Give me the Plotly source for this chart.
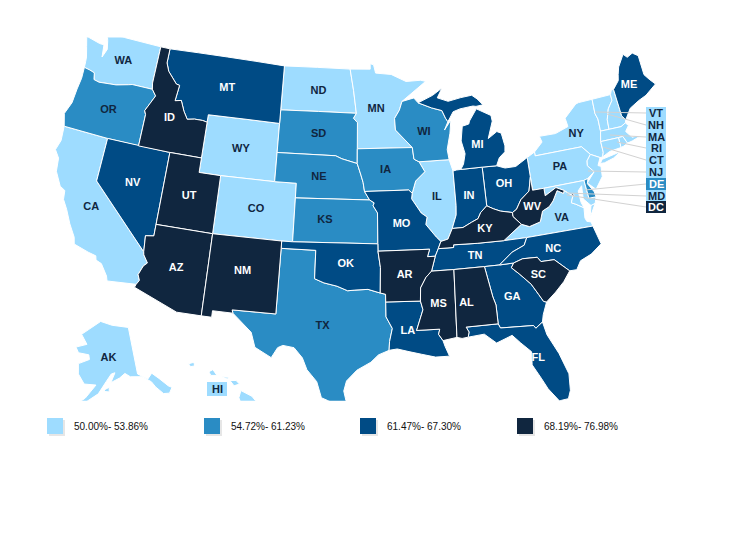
import plotly.graph_objects as go

# ---------- data (values estimated inside each legend range)
LIGHT = ["WA","CA","WY","CO","ND","MN","IL","NY","PA","VA","VT","NH","MA","RI","CT","NJ","MD","AK","HI"]
LIGHT_V = [52.0,51.0,53.0,52.5,52.0,51.5,53.0,50.0,52.5,53.5,51.0,52.0,50.5,51.5,50.8,51.2,53.86,52.8,50.0]
MID = ["OR","SD","NE","KS","IA","WI","TX","DE"]
MID_V = [56.0,59.0,60.0,60.5,58.0,55.0,61.23,54.72]
DARK = ["MT","NV","MO","OK","LA","TN","GA","FL","NC","OH","IN","MI","ME"]
DARK_V = [63.0,62.0,64.5,65.0,66.0,66.5,63.5,62.5,61.47,64.0,65.5,63.0,67.3]
DEEP = ["ID","UT","AZ","NM","AR","MS","AL","SC","KY","WV","DC"]
DEEP_V = [70.0,69.0,68.19,71.0,72.0,74.0,73.0,69.5,72.5,75.0,76.98]
LEGEND_LABELS = ["50.00%- 53.86%","54.72%- 61.23%","61.47%- 67.30%","68.19%- 76.98%"]
COLORS = ["#9edcff","#2a8cc4","#004b85","#10263f"]
CALLOUTS = ["VT","NH","MA","RI","CT","NJ","DE","MD","DC"]

# ---------- simplified state outlines (lon, lat), approximated by hand
SHAPES = {
"WA":[[(-124.7,48.38),(-123.2,48.15),(-122.75,48.15),(-122.6,47.3),(-122.3,47.9),(-122.5,48.5),(-122.76,49),(-117.03,49),(-117.04,46.42),(-116.92,46),(-118.98,46),(-119.3,45.93),(-120.5,45.7),(-121.2,45.65),(-122.2,45.57),(-122.75,45.65),(-122.9,46.1),(-123.4,46.2),(-124,46.27),(-124.05,46.7),(-124.1,47),(-124.4,47.7)]],
"OR":[[(-124,46.27),(-123.4,46.2),(-122.9,46.1),(-122.75,45.65),(-122.2,45.57),(-121.2,45.65),(-120.5,45.7),(-119.3,45.93),(-118.98,46),(-116.92,46),(-116.47,45.6),(-116.85,45),(-117.2,44.45),(-117.03,44.2),(-117.03,42),(-120,42),(-124.21,42),(-124.55,42.84),(-124.15,43.7),(-124.07,44.7),(-123.95,45.5)]],
"CA":[[(-124.21,42),(-120,42),(-120,39),(-114.63,35),(-114.57,34.8),(-114.14,34.3),(-114.43,34.05),(-114.72,33.4),(-114.52,33.03),(-114.72,32.72),(-117.12,32.53),(-117.25,32.85),(-117.9,33.6),(-118.4,33.75),(-118.5,34.03),(-119.2,34.15),(-120.5,34.45),(-120.65,34.9),(-121.3,35.7),(-121.9,36.6),(-122.4,37.2),(-122.5,37.8),(-123,38),(-123.7,38.9),(-123.85,39.8),(-124.35,40.3),(-124.1,41)]],
"NV":[[(-120,42),(-114.04,42),(-114.04,37),(-114.04,36.2),(-114.75,36.1),(-114.63,35),(-120,39)]],
"ID":[[(-117.03,49),(-116.05,49),(-116.05,48),(-115.7,47.45),(-114.7,46.7),(-114.35,46.65),(-114.5,45.55),(-113.9,45.65),(-113.45,44.95),(-113,44.45),(-112.3,44.55),(-111.5,44.55),(-111.05,44.48),(-111.05,42),(-114.04,42),(-117.03,42),(-117.03,44.2),(-117.2,44.45),(-116.85,45),(-116.47,45.6),(-116.92,46),(-117.04,46.42)]],
"MT":[[(-116.05,49),(-104.05,49),(-104.05,45.94),(-104.05,45),(-111.05,45),(-111.05,44.48),(-111.5,44.55),(-112.3,44.55),(-113,44.45),(-113.45,44.95),(-113.9,45.65),(-114.5,45.55),(-114.35,46.65),(-114.7,46.7),(-115.7,47.45),(-116.05,48)]],
"WY":[[(-111.05,45),(-104.05,45),(-104.05,43),(-104.05,41),(-109.05,41),(-111.05,41),(-111.05,42),(-111.05,44.48)]],
"UT":[[(-114.04,42),(-111.05,42),(-111.05,41),(-109.05,41),(-109.05,37),(-114.04,37)]],
"CO":[[(-109.05,41),(-104.05,41),(-102.05,41),(-102.05,40),(-102.05,37),(-103,37),(-109.05,37)]],
"AZ":[[(-114.04,37),(-109.05,37),(-109.05,31.33),(-111.07,31.33),(-114.81,32.5),(-114.72,32.72),(-114.52,33.03),(-114.72,33.4),(-114.43,34.05),(-114.14,34.3),(-114.57,34.8),(-114.63,35),(-114.75,36.1),(-114.04,36.2)]],
"NM":[[(-109.05,37),(-103,37),(-103,36.5),(-103.04,32),(-106.62,32),(-106.53,31.78),(-108.2,31.78),(-108.2,31.33),(-109.05,31.33)]],
"ND":[[(-104.05,49),(-97.23,49),(-96.85,47.5),(-96.56,45.94),(-104.05,45.94)]],
"SD":[[(-104.05,45.94),(-96.56,45.94),(-96.85,45.6),(-96.45,45.3),(-96.45,43.5),(-96.45,42.49),(-97.9,42.8),(-98.5,43),(-104.05,43)]],
"NE":[[(-104.05,43),(-98.5,43),(-97.9,42.8),(-96.45,42.49),(-96.1,41.7),(-95.9,41.2),(-95.77,40.58),(-95.31,40),(-102.05,40),(-102.05,41),(-104.05,41)]],
"KS":[[(-102.05,40),(-95.31,40),(-94.9,39.8),(-95,39.6),(-94.61,39.11),(-94.62,37),(-102.05,37)]],
"OK":[[(-103,37),(-102.05,37),(-94.62,37),(-94.62,36.5),(-94.43,35.39),(-94.48,33.64),(-95.5,33.9),(-96.6,33.85),(-97.2,33.8),(-98.1,34.1),(-99.2,34.3),(-100,34.56),(-100,36.5),(-103,36.5)]],
"TX":[[(-103,36.5),(-100,36.5),(-100,34.56),(-99.2,34.3),(-98.1,34.1),(-97.2,33.8),(-96.6,33.85),(-95.5,33.9),(-94.48,33.64),(-94.04,33.55),(-94.04,33.02),(-94.04,32),(-93.55,31.2),(-93.8,30.3),(-93.85,29.7),(-94.7,29.4),(-95.3,28.9),(-96.4,28.35),(-97.2,27.6),(-97.4,26.9),(-97.15,25.96),(-97.6,25.9),(-98.3,26.1),(-99.1,26.4),(-99.5,27.5),(-100.3,28.3),(-100.7,29.1),(-101.4,29.77),(-102.3,29.88),(-102.7,29.7),(-103.15,28.98),(-104.5,29.6),(-104.9,30.6),(-106.53,31.78),(-106.62,32),(-103.04,32)]],
"MN":[[(-97.23,49),(-95.15,49),(-95.15,49.38),(-94.8,49.3),(-94.6,48.72),(-93,48.6),(-91.5,48.07),(-90,48.1),(-89.5,48),(-92,46.7),(-92.3,46.1),(-92.8,45.55),(-92.75,44.75),(-91.2,43.5),(-96.45,43.5),(-96.45,45.3),(-96.85,45.6),(-96.56,45.94),(-96.85,47.5)]],
"IA":[[(-96.45,43.5),(-91.2,43.5),(-91.1,42.7),(-90.64,42.5),(-90.15,41.8),(-91.05,41.2),(-91.42,40.38),(-91.73,40.61),(-95.77,40.58),(-95.9,41.2),(-96.1,41.7),(-96.45,42.49)]],
"MO":[[(-95.77,40.58),(-91.73,40.61),(-91.42,40.38),(-91.5,40),(-90.7,39),(-90.2,38.7),(-90.35,38.2),(-89.5,37.3),(-89.13,36.98),(-89.4,36.5),(-89.7,36),(-90.37,36),(-90.15,36.5),(-94.62,36.5),(-94.62,37),(-94.61,39.11),(-95,39.6),(-94.9,39.8),(-95.31,40)]],
"AR":[[(-94.62,36.5),(-90.15,36.5),(-90.37,36),(-89.7,36),(-90.1,35),(-90.6,34.6),(-91.1,33.9),(-91.17,33),(-94.04,33.02),(-94.04,33.55),(-94.48,33.64),(-94.43,35.39)]],
"LA":[[(-94.04,33.02),(-91.17,33),(-91,32.4),(-91.6,31),(-89.73,31),(-89.85,30.65),(-89.53,30.2),(-89.4,29.8),(-89.1,29.1),(-90.2,29.1),(-91.3,29.35),(-92.2,29.55),(-93.2,29.78),(-93.85,29.7),(-93.8,30.3),(-93.55,31.2),(-94.04,32)]],
"MS":[[(-90.1,35),(-88.2,35),(-88.4,30.35),(-89.53,30.2),(-89.85,30.65),(-89.73,31),(-91.6,31),(-91,32.4),(-91.17,33),(-91.1,33.9),(-90.6,34.6)]],
"AL":[[(-88.2,35),(-85.6,35),(-85.18,32.87),(-85,32.3),(-85,31),(-87.6,31),(-87.4,30.65),(-87.5,30.3),(-88,30.25),(-88.4,30.35)]],
"TN":[[(-90.1,35),(-89.7,36),(-89.4,36.5),(-88.07,36.5),(-88.05,36.68),(-86,36.63),(-83.68,36.6),(-81.68,36.59),(-82,36.1),(-83.1,35.75),(-84.32,34.99),(-85.6,35),(-88.2,35)]],
"KY":[[(-89.4,36.5),(-89.13,36.98),(-88.5,37.1),(-88.05,37.8),(-87.1,37.8),(-86.3,38.1),(-85.7,38.3),(-85.4,38.7),(-84.8,39.1),(-84.25,38.85),(-83.65,38.63),(-82.6,38.42),(-82.6,38.15),(-81.97,37.54),(-83.68,36.6),(-86,36.63),(-88.05,36.68),(-88.07,36.5)]],
"IL":[[(-90.64,42.5),(-87.8,42.5),(-87.53,41.7),(-87.53,39.35),(-87.6,38.7),(-88.05,37.8),(-88.5,37.1),(-89.13,36.98),(-89.5,37.3),(-90.35,38.2),(-90.2,38.7),(-90.7,39),(-91.5,40),(-91.42,40.38),(-91.05,41.2),(-90.15,41.8)]],
"IN":[[(-87.53,41.7),(-87.2,41.75),(-86.8,41.76),(-84.8,41.76),(-84.8,39.1),(-85.4,38.7),(-85.7,38.3),(-86.3,38.1),(-87.1,37.8),(-88.05,37.8),(-87.6,38.7),(-87.53,39.35)]],
"OH":[[(-84.8,41.76),(-83.45,41.73),(-82.7,41.5),(-81.7,41.5),(-80.52,41.98),(-80.52,40.64),(-80.85,39.7),(-81.7,39.2),(-82.2,38.6),(-82.6,38.42),(-83.65,38.63),(-84.25,38.85),(-84.8,39.1)]],
"MI":[[(-86.8,41.76),(-84.8,41.76),(-83.45,41.73),(-83.1,42.25),(-82.5,42.6),(-82.42,43),(-82.6,43.9),(-83,44.05),(-83.9,43.65),(-83.3,44.8),(-83.35,45.2),(-84.7,45.78),(-85.5,45),(-85.6,44.8),(-86.25,44.7),(-86.5,43.7),(-86.25,42.8),(-86.5,42.1)],
      [(-90.4,46.55),(-88.9,47),(-87.9,47.45),(-88.45,46.8),(-87.4,46.5),(-86.1,46.67),(-85,46.75),(-84.5,46.45),(-84,46),(-84.7,45.95),(-85,46),(-86.3,45.9),(-87,45.75),(-87.6,45.1),(-87.8,45.35),(-88.1,45.9),(-89.1,46.14)]],
"WI":[[(-92,46.7),(-90.8,46.9),(-90.4,46.55),(-89.1,46.14),(-88.1,45.9),(-87.8,45.35),(-87.6,45.1),(-88,44.55),(-87.3,45.2),(-87.5,44.3),(-87.9,43.2),(-87.8,42.5),(-90.64,42.5),(-91.1,42.7),(-91.2,43.5),(-92.75,44.75),(-92.8,45.55),(-92.3,46.1)]],
"GA":[[(-85.6,35),(-84.32,34.99),(-83.1,35),(-83.35,34.7),(-82.75,34.2),(-81.9,33.4),(-81.4,32.6),(-81.1,32.1),(-80.87,32.03),(-81.3,31.2),(-81.45,30.72),(-82.05,30.36),(-82.2,30.57),(-84.86,30.7),(-85,31),(-85,32.3),(-85.18,32.87)]],
"FL":[[(-87.6,31),(-85,31),(-84.86,30.7),(-82.2,30.57),(-82.05,30.36),(-81.45,30.72),(-81.25,29.8),(-80.55,28.4),(-80.05,26.9),(-80.15,25.75),(-80.4,25.2),(-81.1,25.15),(-81.8,26.1),(-82.2,26.9),(-82.75,27.9),(-82.65,28.8),(-83.4,29.5),(-84,30.1),(-85.3,29.7),(-86.2,30.4),(-87.5,30.3),(-87.4,30.65)]],
"SC":[[(-83.1,35),(-82.3,35.2),(-81.05,35.15),(-80.8,34.82),(-79.67,34.8),(-78.55,33.86),(-79.2,33.2),(-80,32.6),(-80.87,32.03),(-81.1,32.1),(-81.4,32.6),(-81.9,33.4),(-82.75,34.2),(-83.35,34.7)]],
"NC":[[(-84.32,34.99),(-83.1,35.75),(-82,36.1),(-81.68,36.59),(-75.87,36.55),(-75.5,35.25),(-76.5,34.7),(-77.5,34.4),(-77.95,33.85),(-78.55,33.86),(-79.67,34.8),(-80.8,34.82),(-81.05,35.15),(-82.3,35.2),(-83.1,35)]],
"VA":[[(-83.68,36.6),(-81.97,37.54),(-81.3,37.3),(-80.3,37.5),(-79.95,38.2),(-79.3,38.42),(-78.87,38.76),(-78.35,39.4),(-77.83,39.13),(-77.72,39.32),(-77.05,38.85),(-77.3,38.4),(-76.95,38.25),(-76.3,37.9),(-76.4,37.2),(-76.3,36.95),(-75.95,36.85),(-75.87,36.55),(-81.68,36.59)],
      [(-75.95,37.15),(-75.65,37.95),(-75.25,38.03)]],
"WV":[[(-81.97,37.54),(-82.6,38.15),(-82.6,38.42),(-82.2,38.6),(-81.7,39.2),(-80.85,39.7),(-80.52,40.64),(-80.52,39.72),(-79.48,39.72),(-79.48,39.2),(-78.4,39.62),(-77.72,39.32),(-77.83,39.13),(-78.35,39.4),(-78.87,38.76),(-79.3,38.42),(-79.95,38.2),(-80.3,37.5),(-81.3,37.3)]],
"MD":[[(-79.48,39.72),(-75.79,39.72),(-75.69,38.46),(-75.05,38.45),(-75.25,38.03),(-75.65,37.95),(-76.2,38.5),(-76.1,39.4),(-76.5,39.1),(-76.45,38.3),(-76.3,37.9),(-76.95,38.25),(-77.3,38.4),(-77.05,38.85),(-77.72,39.32),(-78.4,39.62),(-79.48,39.2)]],
"DC":[[(-77.12,38.93),(-77.04,39),(-76.91,38.89),(-77.04,38.79)]],
"DE":[[(-75.79,39.72),(-75.4,39.8),(-75.55,39.45),(-75.1,38.8),(-75.05,38.45),(-75.69,38.46)]],
"PA":[[(-80.52,41.98),(-79.76,42.27),(-79.76,42),(-75.35,42),(-74.7,41.36),(-75.13,40.98),(-75.2,40.65),(-74.72,40.15),(-75.4,39.8),(-75.79,39.72),(-79.48,39.72),(-80.52,39.72),(-80.52,40.64)]],
"NJ":[[(-74.7,41.36),(-73.9,41),(-74.25,40.5),(-74,40.4),(-74.1,39.7),(-74.9,38.95),(-75.55,39.5),(-74.72,40.15),(-75.2,40.65),(-75.13,40.98)]],
"NY":[[(-79.76,42.27),(-78.9,42.85),(-79.05,43.27),(-77.5,43.25),(-76.2,43.55),(-76.3,44.15),(-75,44.95),(-74.7,45),(-73.35,45.01),(-73.4,44),(-73.25,43.6),(-73.28,42.75),(-73.5,42.05),(-73.5,41.3),(-73.65,41),(-73.9,41),(-74.7,41.36),(-75.35,42),(-79.76,42)],
      [(-74,40.6),(-73.75,40.85),(-72.6,40.98),(-71.9,41.07),(-72.7,40.75),(-73.6,40.58)]],
"CT":[[(-73.5,42.05),(-71.8,42.02),(-71.8,41.32),(-72.9,41.25),(-73.65,41),(-73.5,41.3)]],
"RI":[[(-71.8,42.02),(-71.38,42.02),(-71.12,41.5),(-71.5,41.37),(-71.8,41.32)]],
"MA":[[(-73.5,42.05),(-73.28,42.75),(-72.46,42.73),(-71.3,42.7),(-70.82,42.87),(-70.6,42.65),(-71,42.3),(-70.55,41.8),(-70,41.8),(-70.2,42.07),(-69.95,41.7),(-70.65,41.55),(-71.12,41.5),(-71.38,42.02),(-71.8,42.02)]],
"VT":[[(-73.35,45.01),(-71.5,45.01),(-71.5,44.6),(-72.05,44.1),(-72.4,43.4),(-72.46,42.73),(-73.28,42.75),(-73.25,43.6),(-73.4,44)]],
"NH":[[(-71.5,45.01),(-71.3,45.3),(-71.08,45.3),(-70.98,43.4),(-70.7,43.07),(-70.82,42.87),(-71.3,42.7),(-72.46,42.73),(-72.4,43.4),(-72.05,44.1),(-71.5,44.6)]],
"ME":[[(-71.08,45.3),(-70.4,45.8),(-70.25,46.2),(-70,46.7),(-69.23,47.46),(-68.9,47.18),(-68.3,47.36),(-67.8,47.07),(-67.8,45.7),(-67.45,45.3),(-67,44.85),(-68.2,44.3),(-69,44.1),(-70,43.75),(-70.7,43.07),(-70.98,43.4)]],
"AK":[[(-141,69.65),(-141,60.3),(-137.5,58.9),(-135.5,59.8),(-133.4,58.4),(-131,56.4),(-130,55.9),(-131.5,55),(-133.5,55.3),(-135.5,57),(-136.5,58.2),(-139.5,59.6),(-144,60),(-146,60.8),(-148.3,60),(-151.8,59.2),(-150,61.1),(-151.5,60.9),(-153.5,59.5),(-156.5,57),(-160.5,55.3),(-163.5,54.7),(-161,56),(-157.5,58.7),(-162,58.7),(-164.8,60.5),(-165.5,62.5),(-161,63.6),(-161.5,64.5),(-166.3,64.6),(-168,65.6),(-163,66.5),(-166.5,68.3),(-163,69.5),(-156.7,71.3),(-150,70.5)],
      [(-154.5,57.5),(-152.5,57.4),(-152.5,58.3),(-154,57.9)]],
"HI":[[(-155.9,20.25),(-155.1,19.85),(-154.8,19.5),(-155.7,18.95),(-156.05,19.75)],
      [(-156.7,20.95),(-156.25,20.95),(-156,20.7),(-156.4,20.58)],
      [(-158.25,21.55),(-157.95,21.7),(-157.65,21.3),(-158.1,21.3)],
      [(-159.75,22.1),(-159.35,22.2),(-159.3,21.95),(-159.6,21.9)],
      [(-157.3,21.2),(-156.75,21.17),(-156.9,21.05)]],
}

LABEL_LON = {"WA":-120.4,"OR":-120.6,"CA":-119.9,"NV":-116.8,"ID":-114.7,"MT":-109.6,"WY":-107.5,"UT":-111.6,"CO":-105.5,"AZ":-111.7,"NM":-106.1,"ND":-100.4,"SD":-100.2,"NE":-100.0,"KS":-99.3,"OK":-97.4,"TX":-99.2,"MN":-94.6,"IA":-93.8,"MO":-92.5,"AR":-92.4,"LA":-92.3,"MS":-89.7,"AL":-87.4,"TN":-86.3,"KY":-85.2,"IL":-89.2,"IN":-86.3,"OH":-83.0,"MI":-85.0,"WI":-90.0,"GA":-83.6,"FL":-82.2,"SC":-81.2,"NC":-79.6,"VA":-78.4,"WV":-80.8,"PA":-77.7,"NY":-75.6,"ME":-69.5,"AK":-152.5}
LABEL_LAT = {"WA":47.4,"OR":43.9,"CA":37.2,"NV":39.4,"ID":44.3,"MT":47.0,"WY":43.0,"UT":39.3,"CO":39.0,"AZ":34.3,"NM":34.7,"ND":47.4,"SD":44.4,"NE":41.5,"KS":38.6,"OK":35.6,"TX":31.3,"MN":46.2,"IA":42.0,"MO":38.3,"AR":34.8,"LA":31.0,"MS":32.7,"AL":32.6,"TN":35.8,"KY":37.5,"IL":40.0,"IN":39.9,"OH":40.4,"MI":43.3,"WI":44.5,"GA":32.7,"FL":28.3,"SC":33.9,"NC":35.5,"VA":37.5,"WV":38.6,"PA":40.9,"NY":42.9,"ME":45.3,"AK":64.0}

def clockwise(ring):
    area = sum(a[0]*b[1]-b[0]*a[1] for a,b in zip(ring, ring[1:]+ring[:1]))
    r = ring if area < 0 else ring[::-1]
    return list(r) + [r[0]]

fig = go.Figure()
GROUPS = [(LIGHT,LIGHT_V),(MID,MID_V),(DARK,DARK_V),(DEEP,DEEP_V)]
for (locs,vals),c,n in zip(GROUPS,COLORS,LEGEND_LABELS):
    for s,v in zip(locs,vals):
        lons, lats = [], []
        for ring in SHAPES[s]:
            pts = clockwise(ring)
            lons += [p[0] for p in pts] + [None]
            lats += [p[1] for p in pts] + [None]
        fig.add_trace(go.Scattergeo(lon=lons[:-1],lat=lats[:-1],mode="lines",fill="toself",fillcolor=c,
            line=dict(color="white",width=1),name=s,hovertemplate=f"{s}: {v}%<extra></extra>"))

lab_states = [s for g in (LIGHT,MID,DARK,DEEP) for s in g if s in LABEL_LON]
dark_set = set(DARK+DEEP)
fig.add_trace(go.Scattergeo(lon=[LABEL_LON[s] for s in lab_states],lat=[LABEL_LAT[s] for s in lab_states],
    text=lab_states,mode="text",hoverinfo="skip",
    textfont=dict(family="Liberation Sans",size=11,weight="bold",
                  color=["white" if s in dark_set else "#10263f" for s in lab_states])))

fig.update_geos(visible=False,scope="usa",projection_type="albers usa",projection_scale=1.09,
                domain=dict(x=[0.0,0.962],y=[0.284,0.95]),bgcolor="rgba(0,0,0,0)")

W, H, OFF = 722, 551, 8   # the page body adds an 8 px margin around the figure
def px(x): return (x-OFF)/W
def py(y): return 1-(y-OFF)/H

shapes, ann = [], []
TAG_Y = [113,125,137,148,160,172,184,196,207]
TAG_FROM = [(595,112),(607,114),(610,135),(617,142),(603,147),(588,171),(585,190),(567,193),(567,195)]
COLOR_OF = {s:c for g,c in zip((LIGHT,MID,DARK,DEEP),COLORS) for s in g}
TAG_FONT = dict(family="Liberation Sans",size=11,weight="bold")
for s,y,(x0,y0) in zip(CALLOUTS,TAG_Y,TAG_FROM):
    shapes.append(dict(type="line",xref="paper",yref="paper",x0=px(x0),y0=py(y0),x1=px(646),y1=py(y),
                       line=dict(color="#d2d2d2",width=1)))
    shapes.append(dict(type="rect",xref="paper",yref="paper",x0=px(646),x1=px(666),y0=py(y-6),y1=py(y+6),
                       fillcolor=COLOR_OF[s],line_width=0))
    ann.append(dict(x=px(656),y=py(y),xref="paper",yref="paper",text=s,showarrow=False,xanchor="center",yanchor="middle",
                    font=dict(TAG_FONT,color="white" if s in dark_set or s in MID else "#10263f")))
shapes.append(dict(type="rect",xref="paper",yref="paper",x0=px(207),x1=px(227),y0=py(382),y1=py(396),
                   fillcolor=COLORS[0],line_width=0))
ann.append(dict(x=px(217),y=py(389),xref="paper",yref="paper",text="HI",showarrow=False,xanchor="center",yanchor="middle",
                font=dict(TAG_FONT,color="#10263f")))
for x,c,t in zip((47,204,360,517),COLORS,LEGEND_LABELS):
    shapes.append(dict(type="rect",xref="paper",yref="paper",x0=px(x+2),x1=px(x+18),y0=py(420),y1=py(436),
                       fillcolor="#e6e6e6",line_width=0))
    shapes.append(dict(type="rect",xref="paper",yref="paper",x0=px(x),x1=px(x+16),y0=py(418),y1=py(434),
                       fillcolor=c,line_width=0))
    ann.append(dict(x=px(x+25),y=py(426),xref="paper",yref="paper",text=t,showarrow=False,xanchor="left",yanchor="middle",
                    font=dict(family="Liberation Sans",size=10,color="#111111")))

fig.update_layout(width=W,height=H,margin=dict(l=0,r=0,t=0,b=0),paper_bgcolor="white",
                  showlegend=False,shapes=shapes,annotations=ann)
fig.write_html("out.html")
